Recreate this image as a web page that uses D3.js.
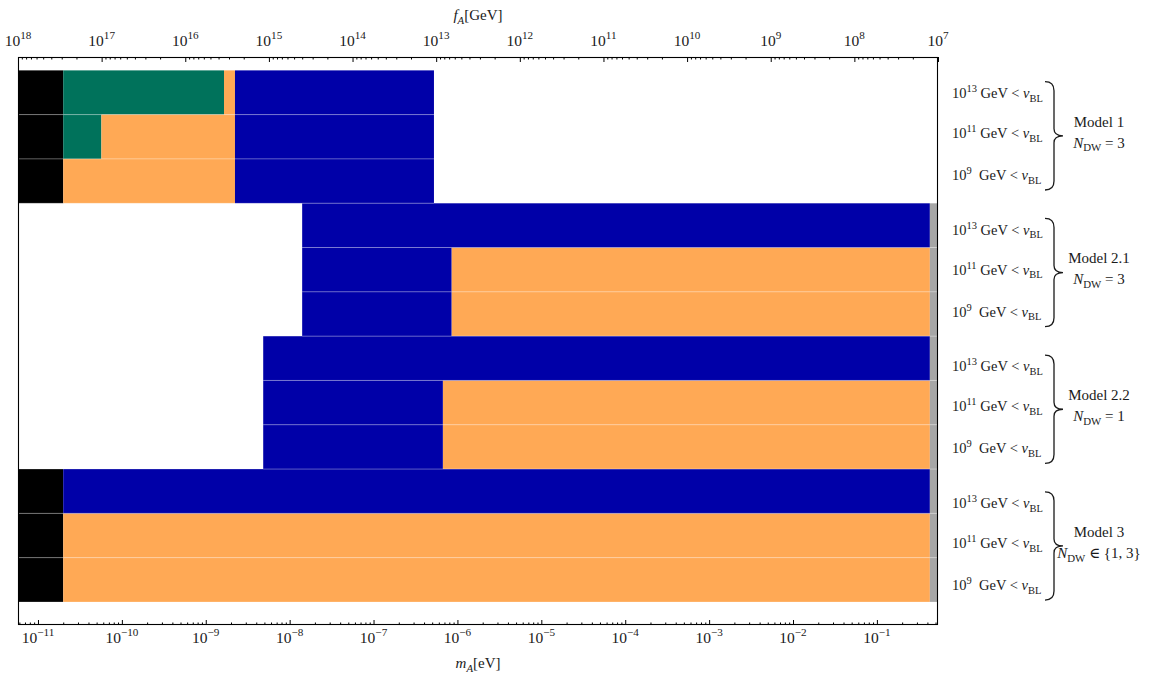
<!DOCTYPE html>
<html><head><meta charset="utf-8">
<script src="https://cdn.jsdelivr.net/npm/d3@7"></script>
<style>
body{margin:0;background:#fff}
text{font-family:"Liberation Serif","DejaVu Serif",serif;fill:#1a1a1a}
</style>
</head><body>
<svg id="c" width="1155" height="677"></svg>
<script>
// ---------------- data ----------------
const mDomain = [5.78e-12, 0.535];          // m_A [eV] (bottom axis)
const fDomain = [1e18, 1e7];                // f_A [GeV] (top axis)
const mTickExp = [-11,-10,-9,-8,-7,-6,-5,-4,-3,-2,-1];
const fTickExp = [18,17,16,15,14,13,12,11,10,9,8,7];
const vblExp = ["13","11","9"];
const modelNames = ["Model 1","Model 2.1","Model 2.2","Model 3"];
const ndwValues = ["= 3","= 3","= 1","\u2208 {1, 3}"];

// [row, m_start, m_end]  (rows 0..11 from top)
const blackBars  = [[0,1e-12,2.0e-11],[1,1e-12,2.0e-11],[2,1e-12,2.0e-11],
                    [9,1e-12,2.0e-11],[10,1e-12,2.0e-11],[11,1e-12,2.0e-11]];
const greenBars  = [[0,2.0e-11,1.65e-9],[1,2.0e-11,5.7e-11]];
const orangeBars = [[0,1.65e-9,2.23e-9],[1,5.7e-11,2.23e-9],[2,2.0e-11,2.23e-9],
                    [4,8.5e-7,0.428],[5,8.5e-7,0.428],
                    [7,6.7e-7,0.428],[8,6.7e-7,0.428],
                    [10,2.0e-11,0.428],[11,2.0e-11,0.428]];
const blueBars   = [[0,2.23e-9,5.25e-7],[1,2.23e-9,5.25e-7],[2,2.23e-9,5.25e-7],
                    [3,1.41e-8,0.428],[4,1.41e-8,8.5e-7],[5,1.41e-8,8.5e-7],
                    [6,4.84e-9,0.428],[7,4.84e-9,6.7e-7],[8,4.84e-9,6.7e-7],
                    [9,2.0e-11,0.428]];
const grayBars   = [[3,0.428,2],[4,0.428,2],[5,0.428,2],[6,0.428,2],[7,0.428,2],
                    [8,0.428,2],[9,0.428,2],[10,0.428,2],[11,0.428,2]];
const colors = {black:"#000000", green:"#00725b", orange:"#ffa955", blue:"#0000a8", gray:"#a6a6a6"};

// ---------------- layout ----------------
const L = 18, R = 938, T = 57, B = 625;
const svg = d3.select("#c");
const x = d3.scaleLog().domain(mDomain).range([L, R]);
const xTop = d3.scaleLog().domain(fDomain).range([L, R]);
const y = d3.scaleLinear().domain([-0.3, 12.52]).range([T, B]);

svg.append("defs").append("clipPath").attr("id","clip")
  .append("rect").attr("x",L).attr("y",T).attr("width",R-L).attr("height",B-T);

const plot = svg.append("g").attr("clip-path","url(#clip)");
const groups = [["black",blackBars],["green",greenBars],["orange",orangeBars],["blue",blueBars],["gray",grayBars]];
groups.forEach(([c, arr]) => {
  plot.selectAll(null).data(arr).enter().append("rect")
    .attr("x", d => x(d[1]))
    .attr("y", d => y(d[0]))
    .attr("width", d => x(d[2]) - x(d[1]))
    .attr("height", d => y(d[0]+1) - y(d[0]))
    .attr("fill", colors[c]);
});
// light edges
groups.forEach(([c, arr]) => {
  arr.forEach(d => {
    [d[0], d[0]+1].forEach(r => {
      plot.append("line")
        .attr("x1", x(d[1])).attr("x2", x(d[2]))
        .attr("y1", y(r)).attr("y2", y(r))
        .attr("stroke","#fff").attr("stroke-opacity",0.17).attr("stroke-width",1);
    });
  });
});

// ---------------- axes ----------------
function minorVals(lo, hi) {
  const out = [];
  for (let e = Math.floor(Math.log10(Math.min(lo,hi))); e <= Math.ceil(Math.log10(Math.max(lo,hi))); e++)
    for (let k = 2; k <= 9; k++) {
      const v = k * Math.pow(10, e);
      if (v > Math.min(lo,hi) && v < Math.max(lo,hi)) out.push(v);
    }
  return out;
}
const mMajor = mTickExp.map(e => Math.pow(10, e));
const fMajor = fTickExp.map(e => Math.pow(10, e));

function styleAxis(g){ g.select(".domain").remove(); g.selectAll("line").attr("stroke","#000"); }

svg.append("g").attr("transform",`translate(0,${B})`)
  .call(d3.axisBottom(x).tickValues(mMajor).tickSize(-5).tickFormat("")).call(styleAxis);
svg.append("g").attr("transform",`translate(0,${B})`)
  .call(d3.axisBottom(x).tickValues(minorVals(mDomain[0], mDomain[1])).tickSize(-2.5).tickFormat("")).call(styleAxis);
svg.append("g").attr("transform",`translate(0,${T})`)
  .call(d3.axisTop(xTop).tickValues(fMajor).tickSize(-5).tickFormat("")).call(styleAxis);
svg.append("g").attr("transform",`translate(0,${T})`)
  .call(d3.axisTop(xTop).tickValues(minorVals(fDomain[1], fDomain[0])).tickSize(-2.5).tickFormat("")).call(styleAxis);

svg.append("rect").attr("x",L+0.5).attr("y",T+0.5).attr("width",R-L-1).attr("height",B-T-1)
  .attr("fill","none").attr("stroke","#000").attr("stroke-width",1.1);

// rich text helper
function rich(sel, parts, size) {
  let shift = 0;
  parts.forEach(p => {
    const ts = sel.append("tspan").text(p.t);
    let target = 0, fs = size;
    if (p.sup) { target = -size*0.42; fs = size*0.72; }
    if (p.sub) { target = size*0.25; fs = size*0.72; }
    ts.attr("dy", target - shift).attr("font-size", fs);
    if (p.it) ts.attr("font-style","italic");
    shift = target;
  });
}

// tick labels
mTickExp.forEach(e => {
  const t = svg.append("text").attr("x", x(Math.pow(10,e))).attr("y", 643).attr("text-anchor","middle");
  rich(t, [{t:"10"},{t:"\u2212"+Math.abs(e), sup:true}], 15.5);
});
fTickExp.forEach(e => {
  const t = svg.append("text").attr("x", xTop(Math.pow(10,e))).attr("y", 46).attr("text-anchor","middle");
  rich(t, [{t:"10"},{t:String(e), sup:true}], 15.5);
});

// axis titles
rich(svg.append("text").attr("x",(L+R)/2).attr("y",20).attr("text-anchor","middle"),
  [{t:"f",it:true},{t:"A",sub:true,it:true},{t:"[GeV]"}], 15);
rich(svg.append("text").attr("x",(L+R)/2).attr("y",668).attr("text-anchor","middle"),
  [{t:"m",it:true},{t:"A",sub:true,it:true},{t:"[eV]"}], 15);

// right-hand annotations
const gStep = 136.7;
const labelOff = [0, 40, 82];
modelNames.forEach((name, g) => {
  const base = g * gStep;
  vblExp.forEach((ex, i) => {
    const t = svg.append("text").attr("x", 952).attr("y", 93 + base + labelOff[i] + 5);
    rich(t, [{t:"10"},{t:ex, sup:true},{t: ex.length === 1 ? "\u2002GeV < " : " GeV < "},{t:"v",it:true},{t:"BL",sub:true}], 14.5);
  });
  const yt = 81.7 + base, yb = 190 + base, ym = (yt + yb) / 2;
  const x0 = 1045, xs = 1054, x1 = 1063;
  svg.append("path")
    .attr("d", `M${x0},${yt} Q${xs},${yt} ${xs},${yt+9} L${xs},${ym-7} Q${xs},${ym} ${x1},${ym} Q${xs},${ym} ${xs},${ym+7} L${xs},${yb-9} Q${xs},${yb} ${x0},${yb}`)
    .attr("fill","none").attr("stroke","#1a1a1a").attr("stroke-width",1.3);
  svg.append("text").attr("x",1099).attr("y",121.7 + base + 5).attr("text-anchor","middle")
    .attr("font-size",15).text(name);
  const t2 = svg.append("text").attr("x",1099).attr("y",141.7 + base + 6).attr("text-anchor","middle");
  rich(t2, [{t:"N",it:true},{t:"DW",sub:true},{t:" " + ndwValues[g]}], 15);
});
</script>
</body></html>
